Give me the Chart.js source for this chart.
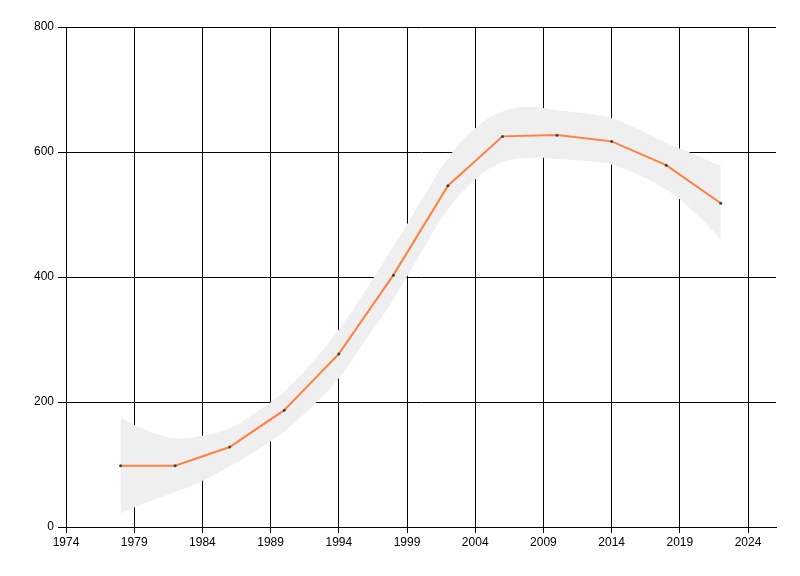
<!DOCTYPE html>
<html>
<head>
<meta charset="utf-8">
<script src="https://cdn.jsdelivr.net/npm/chart.js@4"></script>
<style>
html,body{margin:0;padding:0;background:#fff;}
#wrap{width:800px;height:576px;position:relative;}
</style>
</head>
<body>
<div id="wrap"><canvas id="c" width="800" height="576"></canvas></div>
<script>
// Data
const years = [1978, 1982, 1986, 1990, 1994, 1998, 2002, 2006, 2010, 2014, 2018, 2022];
const values = [98, 98, 128, 187, 277, 403, 546, 625, 627, 617, 579, 518];

const bandYears = [1978, 1980, 1982, 1984, 1986, 1988, 1990, 1992, 1994, 1996, 1998, 2000, 2002, 2004, 2006, 2008, 2010, 2012, 2014, 2016, 2018, 2020, 2022];
const bandUpper = [175, 154, 142, 146, 158, 185, 217, 262, 316, 380, 449, 520, 590, 638, 665, 672, 667, 662, 654, 636, 615, 597, 578];
const bandLower = [22, 40, 56, 74, 97, 123, 153, 192, 238, 300, 364, 438, 508, 556, 584, 591, 589, 586, 580, 563, 540, 505, 461];

const xTicks = [1974, 1979, 1984, 1989, 1994, 1999, 2004, 2009, 2014, 2019, 2024];
const yTicks = [0, 200, 400, 600, 800];

const pts = (xs, ys) => xs.map((x, i) => ({x: x, y: ys[i]}));

new Chart(document.getElementById('c'), {
  type: 'line',
  data: {
    datasets: [
      {
        data: pts(years, values),
        borderColor: '#ff8040',
        borderWidth: 2,
        pointRadius: 1.5,
        pointBackgroundColor: '#444',
        pointBorderWidth: 0,
        tension: 0,
        fill: false,
        order: 0
      },
      {
        data: pts(bandYears, bandUpper),
        borderWidth: 0,
        borderColor: 'rgba(0,0,0,0)',
        backgroundColor: '#efefef',
        pointRadius: 0,
        tension: 0.4,
        fill: '+1',
        order: 1
      },
      {
        data: pts(bandYears, bandLower),
        borderWidth: 0,
        borderColor: 'rgba(0,0,0,0)',
        backgroundColor: '#efefef',
        pointRadius: 0,
        tension: 0.4,
        fill: false,
        order: 2
      }
    ]
  },
  options: {
    responsive: false,
    animation: false,
    devicePixelRatio: 1,
    layout: {padding: {top: 27, right: 24, left: 0, bottom: 0}},
    plugins: {legend: {display: false}, tooltip: {enabled: false}},
    scales: {
      x: {
        type: 'linear',
        min: 1974,
        max: 2026.05,
        afterBuildTicks: (s) => { s.ticks = xTicks.map(v => ({value: v})); },
        afterFit: (s) => { s.height = 49; },
        grid: {color: '#000', lineWidth: 1, tickLength: 6, drawTicks: true},
        border: {color: '#000', width: 1},
        ticks: {
          color: '#000',
          padding: 2,
          maxRotation: 0,
          autoSkip: false,
          font: {family: 'Liberation Sans', size: 12},
          callback: (v) => String(v)
        }
      },
      y: {
        type: 'linear',
        min: 0,
        max: 800,
        afterBuildTicks: (s) => { s.ticks = yTicks.map(v => ({value: v})); },
        afterFit: (s) => { s.width = 66; },
        grid: {color: '#000', lineWidth: 1, tickLength: 8, drawTicks: true},
        border: {color: '#000', width: 1},
        ticks: {
          color: '#000',
          padding: 4,
          font: {family: 'Liberation Sans', size: 12},
          callback: (v) => String(v)
        }
      }
    }
  }
});
</script>
</body>
</html>
